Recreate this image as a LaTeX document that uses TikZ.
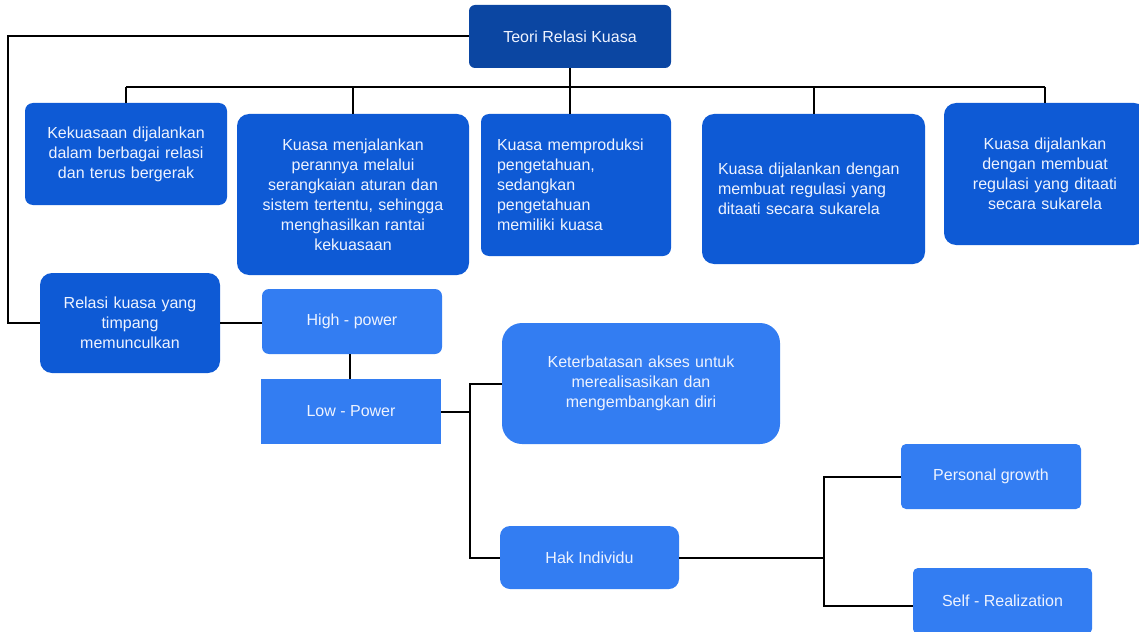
\documentclass[tikz,border=0pt]{standalone}
\usepackage{fontspec}
\setmainfont{Liberation Sans}
\usepackage{tikz}
\usetikzlibrary{positioning}
\definecolor{rootblue}{HTML}{0B46A2}
\definecolor{midblue}{HTML}{0E5AD5}
\definecolor{lightblue}{HTML}{337DF2}
\definecolor{boxtext}{HTML}{EEF3FF}

\begin{document}
\begin{tikzpicture}[x=1pt,y=-1pt,
    box/.style={fill=midblue, text=boxtext, rounded corners=8pt, inner sep=2pt, align=center,
        font=\fontsize{16}{20}\selectfont},
    lightbox/.style={box, fill=lightblue},
    link/.style={draw=black, line width=2pt}]
    \useasboundingbox (0,0) rectangle (1139,631);

    % Root
    \node[box, fill=rootblue, rounded corners=6pt, minimum width=202pt, minimum height=63pt] (root) at (570,36.5) {Teori Relasi Kuasa};

    % First row
    \node[box, minimum width=202pt, minimum height=102pt, text width=196pt] (kekuasaan) at (126,154) {Kekuasaan dijalankan\\dalam berbagai relasi\\dan terus bergerak};
    \node[box, rounded corners=12pt, minimum width=232pt, minimum height=161pt, text width=226pt] (aturan) at (353,194.5) {Kuasa menjalankan\\perannya melalui\\serangkaian aturan dan\\sistem tertentu, sehingga\\menghasilkan rantai\\kekuasaan};
    \node[box, align=left, inner xsep=16pt, minimum width=190pt, minimum height=142pt, text width=158pt] (produksi) at (576,185) {Kuasa memproduksi\\pengetahuan,\\sedangkan\\pengetahuan\\memiliki kuasa};
    \node[box, align=left, rounded corners=12pt, inner xsep=16pt, minimum width=223pt, minimum height=150pt, text width=191pt] (regulasi) at (813.5,189) {Kuasa dijalankan dengan\\membuat regulasi yang\\ditaati secara sukarela};
    \node[box, rounded corners=12pt, minimum width=202pt, minimum height=142pt, text width=196pt] (sukarela) at (1045,174) {Kuasa dijalankan\\dengan membuat\\regulasi yang ditaati\\secara sukarela};

    % Second row
    \node[box, rounded corners=12pt, minimum width=180pt, minimum height=100pt, text width=174pt] (relasi) at (130,323) {Relasi kuasa yang\\timpang\\memunculkan};
    \node[lightbox, rounded corners=7pt, minimum width=180pt, minimum height=65pt] (high) at (352,321.5) {High - power};
    \node[lightbox, rounded corners=0pt, minimum width=180pt, minimum height=65pt] (low) at (351,411.5) {Low - Power};
    \node[lightbox, rounded corners=20pt, minimum width=278pt, minimum height=121pt, text width=260pt] (akses) at (641,383.5) {Keterbatasan akses untuk\\merealisasikan dan\\mengembangkan diri};
    \node[lightbox, rounded corners=10pt, minimum width=179pt, minimum height=63pt] (hak) at (589.5,557.5) {Hak Individu};
    \node[lightbox, rounded corners=5pt, minimum width=180pt, minimum height=65pt] (growth) at (991,476.5) {Personal growth};
    \node[lightbox, rounded corners=5pt, minimum width=179pt, minimum height=66pt] (self) at (1002.5,601) {Self - Realization};

    % Connectors from the root
    \coordinate (bus) at (570,87);
    \draw[link] (root.south) -- (root.south |- produksi.north);
    \draw[link] (kekuasaan.north |- bus) -- (sukarela.north |- bus);
    \foreach \child in {kekuasaan, aturan, regulasi, sukarela}
        \draw[link] (\child.north |- bus) -- (\child.north);
    \draw[link] (root.west) -| ([xshift=-32pt]relasi.west) -- (relasi.west);

    % Power relation branches
    \coordinate (lowsplit) at (470,411.5);
    \coordinate (haksplit) at (824,557.5);
    \draw[link] (relasi.east) -- (relasi.east -| high.west);
    \draw[link] ([xshift=-2pt]high.south) -- ([xshift=-2pt]high.south |- low.north);
    \draw[link] (low.east) -- (lowsplit);
    \draw[link] (akses.west) -| (lowsplit) |- (hak.west);
    \draw[link] (hak.east) -- (haksplit);
    \draw[link] (growth.west) -| (haksplit) |- ([yshift=-5pt]self.west);
\end{tikzpicture}
\end{document}
